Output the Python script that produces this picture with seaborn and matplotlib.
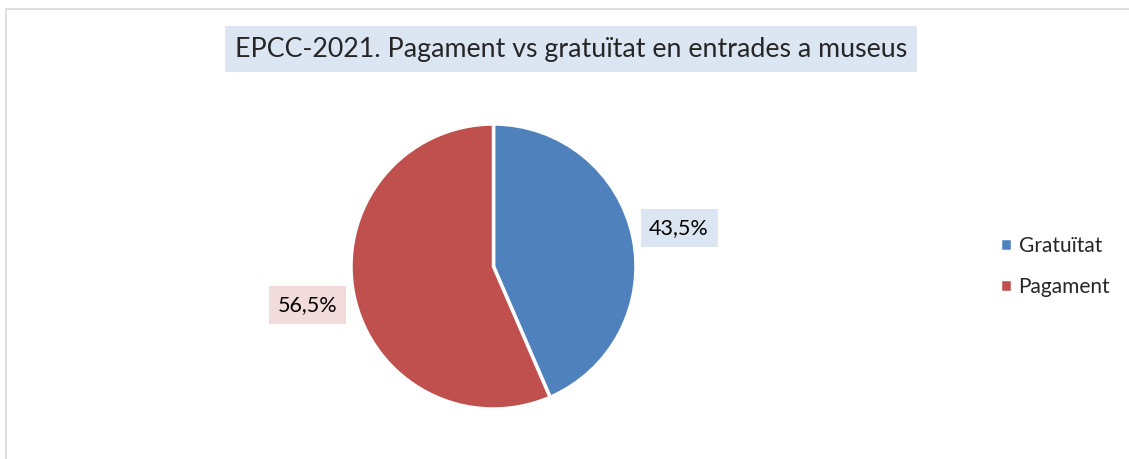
import matplotlib
matplotlib.use("Agg")
import matplotlib.pyplot as plt
from matplotlib.lines import Line2D
import seaborn as sns

# Data
categories = ["Gratuïtat", "Pagament"]
shares = [43.5, 56.5]
colors = ["#4F81BD", "#C0504D"]
label_bg = ["#DCE6F2", "#F2DCDB"]
title = "EPCC-2021. Pagament vs gratuïtat en entrades a museus"

sns.set_theme(style="white")
plt.rcParams["font.family"] = ["Lato", "DejaVu Sans"]

W, H = 1129, 459
fig = plt.figure(figsize=(W / 100, H / 100), dpi=100)

# pie axes: centre ~ (493.5, 266.5) px, radius ~142.5 px
cx, cy, r = 493.5, 266.5, 142.5
ax = fig.add_axes([(cx - r) / W, (H - cy - r) / H, 2 * r / W, 2 * r / H])

wedges, texts, autotexts = ax.pie(
    shares,
    colors=colors,
    startangle=90,
    counterclock=False,
    autopct=lambda p: f"{p:.1f}%".replace(".", ","),
    pctdistance=1.33,
    wedgeprops=dict(edgecolor="white", linewidth=2.5),
    textprops=dict(fontsize=15.5, color="black"),
)
ax.set_xlim(-1, 1)
ax.set_ylim(-1, 1)
ax.set_aspect("equal")

for t, bg in zip(autotexts, label_bg):
    t.set_bbox(dict(boxstyle="square,pad=0.4", facecolor=bg, edgecolor="none"))

# title with shaded box
fig.text(571 / W, 1 - 49 / H, title, ha="center", va="center", fontsize=19.3,
         bbox=dict(boxstyle="square,pad=0.38", facecolor="#DCE6F2", edgecolor="none"))

# legend
fig.legend(wedges, categories, loc="upper left", bbox_to_anchor=(981 / W, 1 - 217 / H),
           frameon=False, fontsize=15, handlelength=0.6, handleheight=0.6,
           handletextpad=0.3, labelspacing=1.0)

# chart area border (left and top only visible)
fig.add_artist(Line2D([5.5 / W, 5.5 / W], [0, 1 - 8.5 / H], color="#D9D9D9", lw=1.2))
fig.add_artist(Line2D([5.5 / W, 1], [1 - 8.5 / H, 1 - 8.5 / H], color="#D9D9D9", lw=1.2))

fig.savefig("out.png", dpi=100, facecolor="white")
